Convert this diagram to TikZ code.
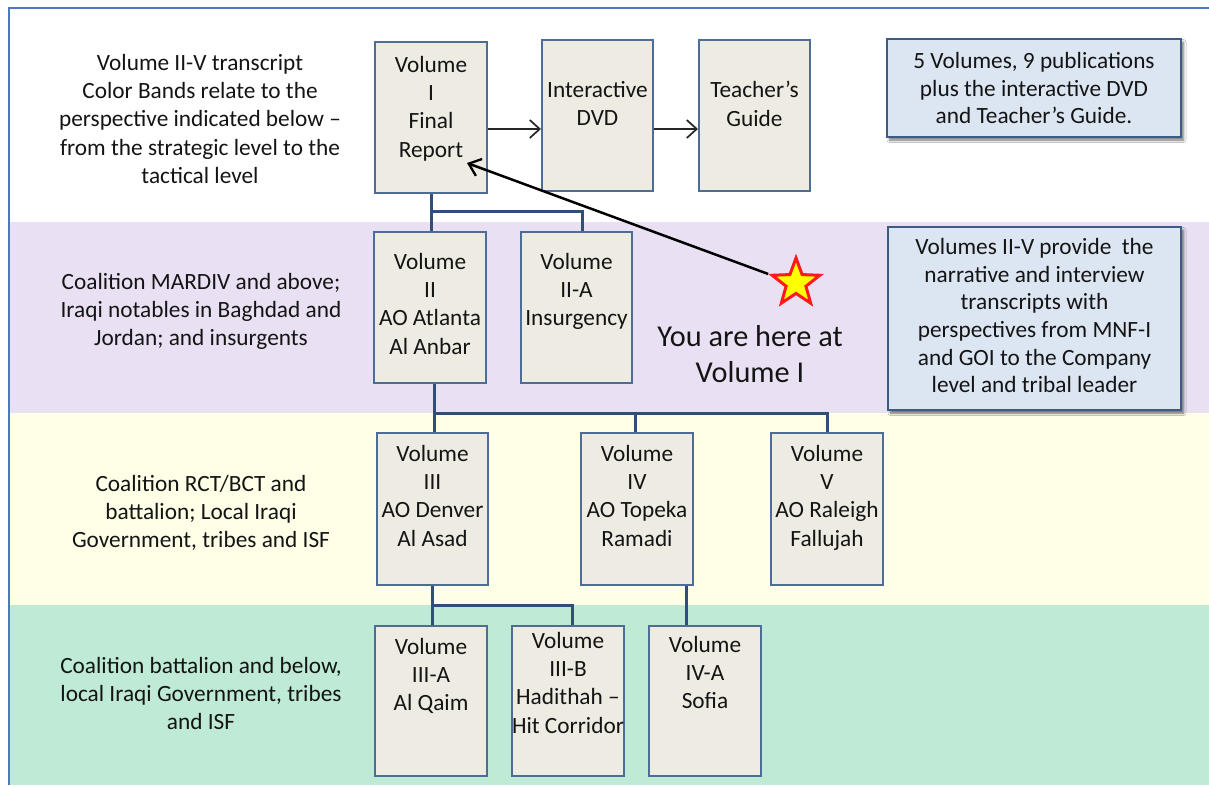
\documentclass[tikz,border=0pt]{standalone}
\usepackage{fontspec}
\setmainfont{Carlito}
\usetikzlibrary{arrows.meta,shapes.geometric,shadows.blur}

\definecolor{bandpurple}{HTML}{E9E1F3}
\definecolor{bandyellow}{HTML}{FFFEE7}
\definecolor{bandgreen}{HTML}{BFEAD6}
\definecolor{boxfill}{HTML}{EEEBE2}
\definecolor{boxline}{HTML}{4D6C96}
\definecolor{connline}{HTML}{2F4E78}
\definecolor{notefill}{HTML}{DCE6F2}
\definecolor{noteline}{HTML}{3C5C86}
\definecolor{frameblue}{HTML}{4A78C2}
\definecolor{ink}{HTML}{141414}
\definecolor{staryellow}{HTML}{FFFF00}
\definecolor{starred}{HTML}{FF1A1A}

\begin{document}
\begin{tikzpicture}[x=1pt,y=-1pt,
  volbox/.style={draw=boxline, line width=2pt, fill=boxfill, inner sep=0pt},
  voltext/.style={anchor=north, align=center, inner sep=0pt, text=ink,
    font=\fontsize{23.3}{28.2}\selectfont},
  notebox/.style={draw=noteline, line width=2.2pt, fill=notefill, inner sep=0pt,
    blur shadow={shadow xshift=2.5pt, shadow yshift=-3pt, shadow blur steps=6,
      shadow blur radius=2.5pt, shadow opacity=55}},
  notetext/.style={anchor=north, align=center, inner sep=0pt, text=ink,
    font=\fontsize{23.3}{27.7}\selectfont},
  conn/.style={draw=connline, line width=3pt},
  flow/.style={draw=black!85, line width=1.7pt,
    -{Straight Barb[length=10pt,width=18pt,line width=1.7pt]}},
  pointer/.style={draw=black, line width=2.5pt,
    -{Straight Barb[length=11pt,width=18pt,line width=2.3pt]}},
  starmark/.style={star, star points=5, star point ratio=2.4, minimum size=50pt,
    inner sep=0pt, fill=staryellow, draw=starred, line width=3pt},
  bigtext/.style={anchor=north, align=center, inner sep=0pt, text=ink,
    font=\fontsize{30.3}{36}\selectfont},
]
\useasboundingbox (0,0) rectangle (1209,785);

% colour bands
\fill[white] (0,0) rectangle (1209,785);
\fill[bandpurple] (9,222) rectangle (1209,413);
\fill[bandyellow] (9,413) rectangle (1209,605);
\fill[bandgreen] (9,605) rectangle (1209,785);

% band descriptions
\node[voltext] (lvl0) at (200,54.2) {Volume II-V transcript\\Color Bands relate to the\\perspective indicated below –\\from the strategic level to the\\tactical level};
\node[voltext] (lvl1) at (201,273.2) {Coalition MARDIV and above;\\Iraqi notables in Baghdad and\\Jordan; and insurgents};
\node[voltext] (lvl2) at (201,475.2) {Coalition RCT/BCT and\\battalion; Local Iraqi\\Government, tribes and ISF};
\node[voltext] (lvl3) at (201,657.2) {Coalition battalion and below,\\local Iraqi Government, tribes\\and ISF};

% volume boxes
\node[volbox, minimum width=112pt, minimum height=151pt] (vI)    at (431,117.5) {};
\node[volbox, minimum width=111pt, minimum height=151pt] (dvd)   at (597.5,115.5) {};
\node[volbox, minimum width=111pt, minimum height=151pt] (teach) at (754.5,115.5) {};
\node[volbox, minimum width=112pt, minimum height=151pt] (vII)   at (430,307.5) {};
\node[volbox, minimum width=111pt, minimum height=151pt] (vIIA)  at (576.5,307.5) {};
\node[volbox, minimum width=111pt, minimum height=152pt] (vIII)  at (432.5,509) {};
\node[volbox, minimum width=112pt, minimum height=152pt] (vIV)   at (637,509) {};
\node[volbox, minimum width=112pt, minimum height=152pt] (vV)    at (827,509) {};
\node[volbox, minimum width=112pt, minimum height=150pt] (vIIIA) at (431,701) {};
\node[volbox, minimum width=112pt, minimum height=150pt] (vIIIB) at (568,701) {};
\node[volbox, minimum width=112pt, minimum height=150pt] (vIVA)  at (705,701) {};

\node[voltext] (vIt)    at ([yshift=-15.2pt]vI.north)    {Volume\\I\\Final\\Report};
\node[voltext] (dvdt)   at ([yshift=-42.2pt]dvd.north)   {Interactive\\DVD};
\node[voltext] (teacht) at ([yshift=-42.2pt]teach.north) {Teacher’s\\Guide};
\node[voltext] (vIIt)   at ([yshift=-22.2pt]vII.north)   {Volume\\II\\AO Atlanta\\Al Anbar};
\node[voltext] (vIIAt)  at ([yshift=-22.2pt]vIIA.north)  {Volume\\II-A\\Insurgency};
\node[voltext] (vIIIt)  at ([yshift=-13.2pt]vIII.north)  {Volume\\III\\AO Denver\\Al Asad};
\node[voltext] (vIVt)   at ([yshift=-13.2pt]vIV.north)   {Volume\\IV\\AO Topeka\\Ramadi};
\node[voltext] (vVt)    at ([yshift=-13.2pt]vV.north)    {Volume\\V\\AO Raleigh\\Fallujah};
\node[voltext] (vIIIAt) at ([yshift=-13.2pt]vIIIA.north) {Volume\\III-A\\Al Qaim};
\node[voltext] (vIIIBt) at ([yshift=-7.2pt]vIIIB.north)  {Volume\\III-B\\Hadithah –\\Hit Corridor};
\node[voltext] (vIVAt)  at ([yshift=-10.7pt]vIVA.north)  {Volume\\IV-A\\Sofia};

% tree connectors
\coordinate (busA) at (431,211);
\coordinate (busB) at (434,413);
\coordinate (busC) at (432.5,605);
\draw[conn] (vI.south) -- (vI.south |- vII.north);
\draw[conn] (busA) -| ([xshift=5.5pt]vIIA.north);
\draw[conn] ([xshift=4pt]vII.south) -- ([xshift=1.5pt]vIII.north);
\draw[conn] (busB) -| (vV.north);
\draw[conn] ([xshift=-2pt]vIV.north) -- ([xshift=-2pt]vIV.north |- busB);
\draw[conn] (vIII.south) -- (vIII.south |- vIIIA.north);
\draw[conn] (busC) -| ([xshift=4pt]vIIIB.north);
\draw[conn] ([xshift=49pt]vIV.south) -- ([xshift=-19pt]vIVA.north);

% publication flow
\draw[flow] ([yshift=-11.5pt]vI.east) -- ([yshift=-11.5pt]vI.east -| dvd.west);
\draw[flow] ([yshift=-13.5pt]dvd.east) -- ([yshift=-13.5pt]dvd.east -| teach.west);

% notes
\node[notebox, minimum width=294pt, minimum height=98pt] (noteA) at (1034,88) {};
\node[notetext] (noteAt) at ([yshift=-14.2pt]noteA.north) {5 Volumes, 9 publications\\plus the interactive DVD\\and Teacher’s\ Guide.};
\node[notebox, minimum width=293pt, minimum height=183pt] (noteB) at (1034.5,318.5) {};
\node[notetext] (noteBt) at ([yshift=-12.2pt]noteB.north) {Volumes II-V provide\ \ the\\narrative and interview\\transcripts with\\perspectives from MNF-I\\and GOI to the Company\\level and tribal leader};

% current position marker
\coordinate (here) at (467,163);
\node[starmark] (star) at (796,283) {};
\draw[pointer] (star.outer point 2) -- (here);
\node[bigtext] (youare) at (750,325.5) {You are here at\\Volume I};

% outer frame
\draw[frameblue, line width=2.5pt] (9,785) -- (9,8) -- (1209,8);
\end{tikzpicture}
\end{document}
